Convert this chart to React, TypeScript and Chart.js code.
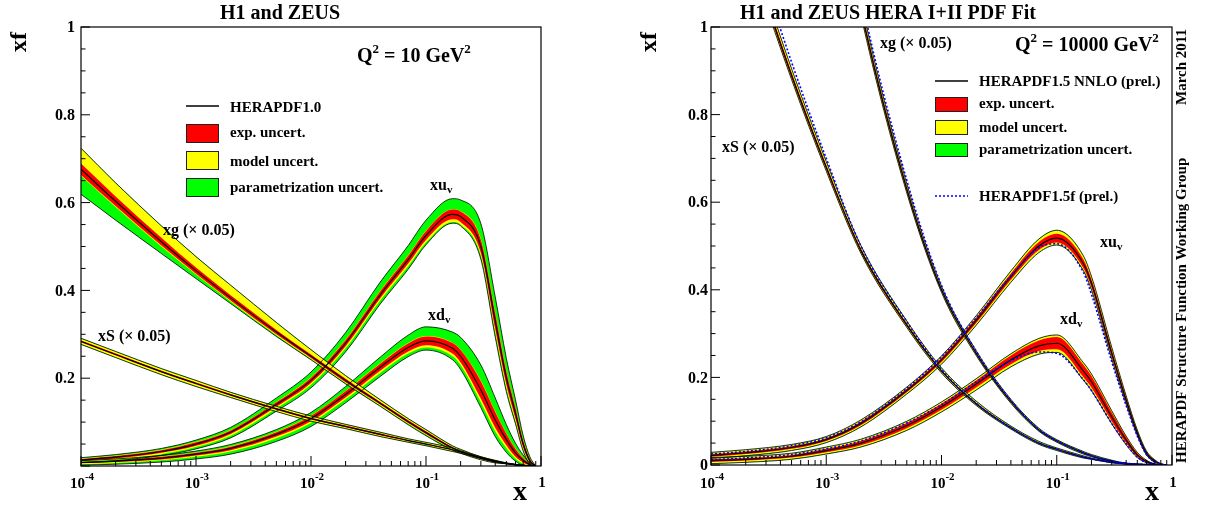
import React, { useEffect, useRef } from "react";
import { Chart, registerables } from "chart.js";
Chart.register(...registerables);

// ---------- shared x grid ----------
const X_GRID = [1e-4, 2e-4, 5e-4, 1e-3, 2e-3, 5e-3, 0.01, 0.02, 0.04, 0.07, 0.1, 0.17, 0.2, 0.3, 0.4, 0.5, 0.6, 0.7, 0.8, 0.9];

// ---------- tick labels ----------
const Y_LABELS_LEFT = [0.2, 0.4, 0.6, 0.8, 1];
const Y_LABELS_RIGHT = [0, 0.2, 0.4, 0.6, 0.8, 1];
const X_DECADES = [-4, -3, -2, -1];

// ---------- LEFT panel: Q^2 = 10 GeV^2 (HERAPDF1.0) ----------
const L_XUV = [0.014, 0.02, 0.033, 0.05, 0.077, 0.14, 0.195, 0.28, 0.39, 0.47, 0.525, 0.573, 0.568, 0.5, 0.33, 0.2, 0.12, 0.05, 0.012, 0];
const L_XUV_EXP = [0.002, 0.003, 0.003, 0.004, 0.004, 0.005, 0.006, 0.007, 0.008, 0.009, 0.01, 0.011, 0.012, 0.015, 0.018, 0.015, 0.012, 0.008, 0.004, 0];
const L_XUV_MOD_UP = [0.001, 0.001, 0.001, 0.001, 0.001, 0.001, 0.001, 0.001, 0.001, 0.001, 0.001, 0.001, 0.001, 0.002, 0.002, 0.002, 0.001, 0.001, 0.001, 0];
const L_XUV_MOD_DN = [0.002, 0.002, 0.003, 0.003, 0.004, 0.004, 0.004, 0.005, 0.005, 0.006, 0.006, 0.006, 0.006, 0.006, 0.008, 0.008, 0.006, 0.004, 0.002, 0];
const L_XUV_PAR_UP = [0.002, 0.002, 0.003, 0.004, 0.006, 0.009, 0.012, 0.016, 0.02, 0.022, 0.024, 0.024, 0.025, 0.035, 0.035, 0.028, 0.018, 0.01, 0.004, 0];
const L_XUV_PAR_DN = [0.002, 0.003, 0.003, 0.004, 0.005, 0.006, 0.007, 0.008, 0.008, 0.007, 0.005, 0.003, 0.003, 0.008, 0.01, 0.008, 0.006, 0.004, 0.002, 0];

const L_XDV = [0.008, 0.011, 0.018, 0.027, 0.04, 0.072, 0.108, 0.163, 0.225, 0.27, 0.285, 0.268, 0.25, 0.173, 0.105, 0.06, 0.03, 0.013, 0.003, 0];
const L_XDV_EXP = [0.002, 0.002, 0.003, 0.003, 0.004, 0.005, 0.006, 0.007, 0.008, 0.009, 0.01, 0.012, 0.014, 0.02, 0.018, 0.013, 0.009, 0.005, 0.002, 0];
const L_XDV_MOD_UP = [0.001, 0.001, 0.001, 0.001, 0.001, 0.001, 0.001, 0.001, 0.001, 0.001, 0.001, 0.001, 0.001, 0.002, 0.002, 0.001, 0.001, 0.001, 0, 0];
const L_XDV_MOD_DN = [0.002, 0.002, 0.002, 0.003, 0.003, 0.004, 0.004, 0.004, 0.005, 0.005, 0.005, 0.006, 0.006, 0.008, 0.008, 0.006, 0.004, 0.003, 0.001, 0];
const L_XDV_PAR_UP = [0.001, 0.002, 0.002, 0.003, 0.004, 0.005, 0.007, 0.01, 0.014, 0.018, 0.021, 0.024, 0.028, 0.035, 0.03, 0.02, 0.012, 0.006, 0.002, 0];
const L_XDV_PAR_DN = [0.002, 0.003, 0.004, 0.005, 0.006, 0.007, 0.008, 0.008, 0.008, 0.007, 0.006, 0.008, 0.01, 0.012, 0.012, 0.01, 0.006, 0.004, 0.002, 0];

const L_XG = [0.676, 0.603, 0.511, 0.445, 0.383, 0.305, 0.25, 0.195, 0.143, 0.101, 0.076, 0.041, 0.033, 0.018, 0.01, 0.006, 0.003, 0.0015, 0.0005, 0];
const L_XG_EXP = [0.013, 0.011, 0.009, 0.007, 0.006, 0.005, 0.004, 0.004, 0.003, 0.003, 0.003, 0.002, 0.002, 0.002, 0.001, 0.001, 0.001, 0, 0, 0];
const L_XG_MOD_UP = [0.034, 0.03, 0.026, 0.024, 0.022, 0.016, 0.01, 0.006, 0.004, 0.003, 0.003, 0.002, 0.002, 0.001, 0.001, 0, 0, 0, 0, 0];
const L_XG_MOD_DN = [0.002, 0.002, 0.002, 0.002, 0.002, 0.002, 0.002, 0.002, 0.002, 0.002, 0.002, 0.001, 0.001, 0.001, 0.001, 0, 0, 0, 0, 0];
const L_XG_PAR_UP = [0.001, 0.001, 0.001, 0.001, 0.001, 0.001, 0.001, 0.001, 0.001, 0.001, 0.001, 0.001, 0.001, 0, 0, 0, 0, 0, 0, 0];
const L_XG_PAR_DN = [0.042, 0.03, 0.016, 0.009, 0.005, 0.003, 0.002, 0.002, 0.002, 0.002, 0.002, 0.002, 0.001, 0.001, 0.001, 0, 0, 0, 0, 0];

const L_XS = [0.284, 0.254, 0.215, 0.188, 0.162, 0.13, 0.108, 0.09, 0.072, 0.058, 0.05, 0.037, 0.032, 0.019, 0.011, 0.006, 0.003, 0.0015, 0.0005, 0];
const L_XS_EXP = [0.002, 0.002, 0.002, 0.002, 0.002, 0.002, 0.002, 0.002, 0.002, 0.001, 0.001, 0.001, 0.001, 0.001, 0.001, 0, 0, 0, 0, 0];
const L_XS_MOD_UP = [0.004, 0.004, 0.004, 0.004, 0.003, 0.003, 0.003, 0.002, 0.002, 0.002, 0.002, 0.002, 0.001, 0.001, 0.001, 0.001, 0, 0, 0, 0];
const L_XS_MOD_DN = [0.004, 0.004, 0.004, 0.004, 0.003, 0.003, 0.003, 0.002, 0.002, 0.002, 0.002, 0.002, 0.001, 0.001, 0.001, 0.001, 0, 0, 0, 0];
const L_XS_PAR_UP = [0.001, 0.001, 0.001, 0.001, 0.001, 0.001, 0.001, 0.001, 0.001, 0.001, 0.001, 0.001, 0.001, 0, 0, 0, 0, 0, 0, 0];
const L_XS_PAR_DN = [0.001, 0.001, 0.001, 0.001, 0.001, 0.001, 0.001, 0.001, 0.001, 0.001, 0.001, 0.001, 0.001, 0, 0, 0, 0, 0, 0, 0];

// ---------- RIGHT panel: Q^2 = 10000 GeV^2 (HERAPDF1.5 NNLO) ----------
const R_XUV = [0.022, 0.028, 0.04, 0.058, 0.095, 0.17, 0.24, 0.33, 0.43, 0.5, 0.518, 0.46, 0.415, 0.255, 0.148, 0.073, 0.027, 0.01, 0.002, 0];
const R_XUV_EXP = [0.003, 0.003, 0.003, 0.003, 0.004, 0.004, 0.005, 0.006, 0.007, 0.009, 0.01, 0.01, 0.009, 0.008, 0.006, 0.004, 0.003, 0.002, 0.001, 0];
const R_XUV_MOD_UP = [0.003, 0.003, 0.003, 0.003, 0.003, 0.003, 0.003, 0.004, 0.005, 0.006, 0.007, 0.007, 0.006, 0.005, 0.004, 0.003, 0.002, 0.001, 0, 0];
const R_XUV_MOD_DN = [0.003, 0.003, 0.003, 0.003, 0.003, 0.003, 0.004, 0.004, 0.005, 0.005, 0.005, 0.005, 0.005, 0.004, 0.003, 0.002, 0.001, 0.001, 0, 0];
const R_XUV_F = [0.025, 0.031, 0.044, 0.062, 0.099, 0.175, 0.247, 0.336, 0.432, 0.496, 0.505, 0.44, 0.39, 0.236, 0.136, 0.066, 0.024, 0.008, 0.002, 0];

const R_XDV = [0.01, 0.013, 0.02, 0.033, 0.05, 0.09, 0.133, 0.185, 0.24, 0.272, 0.278, 0.215, 0.19, 0.11, 0.057, 0.023, 0.008, 0.002, 0, 0];
const R_XDV_EXP = [0.003, 0.003, 0.003, 0.004, 0.005, 0.006, 0.007, 0.008, 0.01, 0.012, 0.014, 0.014, 0.013, 0.01, 0.007, 0.004, 0.002, 0.001, 0, 0];
const R_XDV_MOD_UP = [0.003, 0.003, 0.003, 0.003, 0.003, 0.003, 0.003, 0.003, 0.003, 0.004, 0.004, 0.004, 0.004, 0.003, 0.002, 0.002, 0.001, 0, 0, 0];
const R_XDV_MOD_DN = [0.003, 0.003, 0.003, 0.003, 0.003, 0.004, 0.004, 0.005, 0.005, 0.006, 0.006, 0.006, 0.006, 0.005, 0.004, 0.002, 0.001, 0, 0, 0];
const R_XDV_F = [0.012, 0.016, 0.024, 0.037, 0.055, 0.096, 0.138, 0.19, 0.238, 0.258, 0.255, 0.195, 0.17, 0.095, 0.048, 0.018, 0.006, 0.002, 0, 0];

const R_XG = [3.3, 2.7, 1.95, 1.45, 1.04, 0.63, 0.4, 0.255, 0.145, 0.08, 0.055, 0.028, 0.021, 0.009, 0.004, 0.002, 0.001, 0, 0, 0];
const R_XG_EXP = [0.03, 0.025, 0.018, 0.012, 0.008, 0.005, 0.003, 0.002, 0.002, 0.001, 0.001, 0.001, 0.001, 0, 0, 0, 0, 0, 0, 0];
const R_XG_MOD_UP = [0.03, 0.025, 0.02, 0.015, 0.01, 0.006, 0.004, 0.003, 0.002, 0.002, 0.001, 0.001, 0.001, 0.001, 0, 0, 0, 0, 0, 0];
const R_XG_MOD_DN = [0.01, 0.008, 0.006, 0.005, 0.004, 0.003, 0.002, 0.002, 0.001, 0.001, 0.001, 0.001, 0, 0, 0, 0, 0, 0, 0, 0];
const R_XG_F = [3.4, 2.8, 2.0, 1.5, 1.07, 0.65, 0.41, 0.26, 0.147, 0.081, 0.055, 0.028, 0.021, 0.009, 0.004, 0.002, 0.001, 0, 0, 0];

const R_XS = [1.45, 1.2, 0.89, 0.68, 0.49, 0.32, 0.215, 0.14, 0.085, 0.05, 0.036, 0.018, 0.014, 0.006, 0.0025, 0.001, 0, 0, 0, 0];
const R_XS_EXP = [0.01, 0.008, 0.006, 0.005, 0.004, 0.003, 0.002, 0.002, 0.001, 0.001, 0.001, 0.001, 0, 0, 0, 0, 0, 0, 0, 0];
const R_XS_MOD_UP = [0.012, 0.01, 0.008, 0.007, 0.006, 0.005, 0.004, 0.003, 0.002, 0.002, 0.001, 0.001, 0.001, 0, 0, 0, 0, 0, 0, 0];
const R_XS_MOD_DN = [0.005, 0.004, 0.003, 0.003, 0.002, 0.002, 0.002, 0.001, 0.001, 0.001, 0.001, 0, 0, 0, 0, 0, 0, 0, 0, 0];
const R_XS_F = [1.5, 1.24, 0.92, 0.7, 0.5, 0.327, 0.218, 0.141, 0.085, 0.05, 0.036, 0.018, 0.014, 0.006, 0.0025, 0.001, 0, 0, 0, 0];

const R_PAR = [0.001, 0.001, 0.001, 0.001, 0.001, 0.001, 0.001, 0.001, 0.001, 0.001, 0.001, 0.001, 0.001, 0.001, 0, 0, 0, 0, 0, 0];

// ---------- styling ----------
const RED = "#ff0000";
const YELLOW = "#ffff00";
const GREEN = "#00ff00";
const BLUE = "#0000ff";
const NONE = "rgba(0,0,0,0)";
const SERIF = '"Liberation Serif", "Times New Roman", serif';

type Band = { c: number[]; exp: number[]; mu: number[]; md: number[]; pu: number[]; pd: number[] };

const LEFT_BANDS: Band[] = [
  { c: L_XS, exp: L_XS_EXP, mu: L_XS_MOD_UP, md: L_XS_MOD_DN, pu: L_XS_PAR_UP, pd: L_XS_PAR_DN },
  { c: L_XG, exp: L_XG_EXP, mu: L_XG_MOD_UP, md: L_XG_MOD_DN, pu: L_XG_PAR_UP, pd: L_XG_PAR_DN },
  { c: L_XUV, exp: L_XUV_EXP, mu: L_XUV_MOD_UP, md: L_XUV_MOD_DN, pu: L_XUV_PAR_UP, pd: L_XUV_PAR_DN },
  { c: L_XDV, exp: L_XDV_EXP, mu: L_XDV_MOD_UP, md: L_XDV_MOD_DN, pu: L_XDV_PAR_UP, pd: L_XDV_PAR_DN },
];
const RIGHT_BANDS: Band[] = [
  { c: R_XS, exp: R_XS_EXP, mu: R_XS_MOD_UP, md: R_XS_MOD_DN, pu: R_PAR, pd: R_PAR },
  { c: R_XG, exp: R_XG_EXP, mu: R_XG_MOD_UP, md: R_XG_MOD_DN, pu: R_PAR, pd: R_PAR },
  { c: R_XUV, exp: R_XUV_EXP, mu: R_XUV_MOD_UP, md: R_XUV_MOD_DN, pu: R_PAR, pd: R_PAR },
  { c: R_XDV, exp: R_XDV_EXP, mu: R_XDV_MOD_UP, md: R_XDV_MOD_DN, pu: R_PAR, pd: R_PAR },
];
const RIGHT_F = [R_XS_F, R_XG_F, R_XUV_F, R_XDV_F];

function pts(arr: number[]) {
  return X_GRID.map((x, i) => ({ x, y: arr[i] }));
}

const COMMON = {
  pointRadius: 0,
  pointHoverRadius: 0,
  cubicInterpolationMode: "monotone",
  capBezierPoints: false,
  clip: 0,
};

function bandDatasets(b: Band) {
  const rHi = b.c.map((v, i) => v + b.exp[i]);
  const rLo = b.c.map((v, i) => v - b.exp[i]);
  const yHi = rHi.map((v, i) => v + b.mu[i]);
  const yLo = rLo.map((v, i) => v - b.md[i]);
  const gHi = yHi.map((v, i) => v + b.pu[i]);
  const gLo = yLo.map((v, i) => v - b.pd[i]);
  return [
    { ...COMMON, data: pts(b.c), fill: false, borderColor: "#000", borderWidth: 1.2 },
    { ...COMMON, data: pts(rLo), fill: false, borderColor: NONE, borderWidth: 1 },
    { ...COMMON, data: pts(rHi), fill: "-1", backgroundColor: RED, borderColor: NONE, borderWidth: 1 },
    { ...COMMON, data: pts(yLo), fill: false, borderColor: NONE, borderWidth: 1 },
    { ...COMMON, data: pts(yHi), fill: "-1", backgroundColor: YELLOW, borderColor: NONE, borderWidth: 1 },
    { ...COMMON, data: pts(gLo), fill: false, borderColor: "#000", borderWidth: 0.8 },
    { ...COMMON, data: pts(gHi), fill: "-1", backgroundColor: GREEN, borderColor: "#000", borderWidth: 0.8 },
  ];
}

type Seg = { t: string; s: number; dy?: number };

function runWidth(ctx: CanvasRenderingContext2D, segs: Seg[]) {
  let w = 0;
  for (const g of segs) {
    ctx.font = `bold ${g.s}px ${SERIF}`;
    w += ctx.measureText(g.t).width;
  }
  return w;
}

function drawRun(ctx: CanvasRenderingContext2D, x: number, y: number, segs: Seg[], align = "left") {
  const w = runWidth(ctx, segs);
  let cx = align === "center" ? x - w / 2 : align === "right" ? x - w : x;
  ctx.textAlign = "left";
  ctx.textBaseline = "alphabetic";
  for (const g of segs) {
    ctx.font = `bold ${g.s}px ${SERIF}`;
    ctx.fillText(g.t, cx, y + (g.dy || 0));
    cx += ctx.measureText(g.t).width;
  }
}

function drawVertical(ctx: CanvasRenderingContext2D, x: number, y: number, text: string, size: number) {
  ctx.save();
  ctx.translate(x, y);
  ctx.rotate(-Math.PI / 2);
  ctx.font = `bold ${size}px ${SERIF}`;
  ctx.textAlign = "left";
  ctx.textBaseline = "alphabetic";
  ctx.fillText(text, 0, 0);
  ctx.restore();
}

type Deco = {
  title: string; titleX: number;
  xfX: number; xLabX: number;
  q2: string; q2X: number; q2Y: number;
  yLabels: number[]; yGap: number;
  legend: { lineY: number; x0: number; x1: number; tx: number; main: string; mainY: number; boxes: { color: string; y0: number; y1: number; text: string; ty: number }[]; fLine?: { y: number; text: string; ty: number } };
  labels: { segs: Seg[]; x: number; y: number }[];
  side?: boolean;
};

function makeDecor(d: Deco) {
  return {
    id: "decor",
    afterDraw(chart: any) {
      const ctx: CanvasRenderingContext2D = chart.ctx;
      const xs = chart.scales.x;
      const ys = chart.scales.y;
      const { left, right, top, bottom } = chart.chartArea;
      ctx.save();
      ctx.fillStyle = "#000";
      ctx.strokeStyle = "#000";
      ctx.lineWidth = 1.2;
      ctx.strokeRect(left, top, right - left, bottom - top);
      ctx.lineWidth = 1;
      for (let k = 0; k <= 20; k++) {
        const v = k * 0.05;
        const py = ys.getPixelForValue(v);
        const len = k % 4 === 0 ? 9 : 4.5;
        ctx.beginPath();
        ctx.moveTo(left, py);
        ctx.lineTo(left + len, py);
        ctx.stroke();
      }
      for (let dcd = -4; dcd <= 0; dcd++) {
        for (let m = 1; m <= 9; m++) {
          const v = m * Math.pow(10, dcd);
          if (v > 1.0000001) continue;
          const px = xs.getPixelForValue(v);
          const len = m === 1 ? 10 : 5;
          ctx.beginPath();
          ctx.moveTo(px, bottom);
          ctx.lineTo(px, bottom - len);
          ctx.stroke();
        }
      }
      ctx.font = `bold 16px ${SERIF}`;
      ctx.textAlign = "right";
      ctx.textBaseline = "middle";
      for (const v of d.yLabels) {
        ctx.fillText(String(v), left - d.yGap, ys.getPixelForValue(v) + 1);
      }
      for (const e of X_DECADES) {
        const px = xs.getPixelForValue(Math.pow(10, e));
        drawRun(ctx, px + 1, 488, [{ t: "10", s: 15 }, { t: "-" + String(-e), s: 11, dy: -8 }], "center");
      }
      drawRun(ctx, xs.getPixelForValue(1) + 1, 487, [{ t: "1", s: 15 }], "center");
      drawVertical(ctx, d.xfX, 52, "xf", 24);
      drawRun(ctx, d.xLabX, 500, [{ t: "x", s: 28 }]);
      drawRun(ctx, d.titleX, 19, [{ t: d.title, s: 20 }]);
      drawRun(ctx, d.q2X, d.q2Y, [
        { t: "Q", s: 20 }, { t: "2", s: 13, dy: -9 }, { t: " = " + d.q2 + " GeV", s: 20 }, { t: "2", s: 13, dy: -9 },
      ]);
      const L = d.legend;
      ctx.strokeStyle = "#000";
      ctx.lineWidth = 1.5;
      ctx.beginPath();
      ctx.moveTo(L.x0, L.lineY);
      ctx.lineTo(L.x1, L.lineY);
      ctx.stroke();
      drawRun(ctx, L.tx, L.mainY, [{ t: L.main, s: 15 }]);
      for (const b of L.boxes) {
        ctx.fillStyle = b.color;
        ctx.fillRect(L.x0, b.y0, L.x1 - L.x0, b.y1 - b.y0);
        ctx.strokeStyle = "#222";
        ctx.lineWidth = 1;
        ctx.strokeRect(L.x0 + 0.5, b.y0 + 0.5, L.x1 - L.x0 - 1, b.y1 - b.y0 - 1);
        ctx.fillStyle = "#000";
        drawRun(ctx, L.tx, b.ty, [{ t: b.text, s: 15 }]);
      }
      if (L.fLine) {
        ctx.strokeStyle = BLUE;
        ctx.lineWidth = 1.5;
        ctx.setLineDash([2, 2]);
        ctx.beginPath();
        ctx.moveTo(L.x0, L.fLine.y);
        ctx.lineTo(L.x1, L.fLine.y);
        ctx.stroke();
        ctx.setLineDash([]);
        ctx.fillStyle = "#000";
        drawRun(ctx, L.tx, L.fLine.ty, [{ t: L.fLine.text, s: 15 }]);
      }
      ctx.fillStyle = "#000";
      for (const lb of d.labels) drawRun(ctx, lb.x, lb.y, lb.segs);
      if (d.side) {
        drawVertical(ctx, 580, 105, "March 2011", 15);
        drawVertical(ctx, 580, 463, "HERAPDF Structure Function Working Group", 15);
      }
      ctx.restore();
    },
  };
}

const LEFT_DECO: Deco = {
  title: "H1 and ZEUS", titleX: 220,
  xfX: 26, xLabX: 513,
  q2: "10", q2X: 357, q2Y: 62,
  yLabels: Y_LABELS_LEFT, yGap: 6,
  legend: {
    lineY: 106, x0: 186, x1: 219, tx: 230, main: "HERAPDF1.0", mainY: 112,
    boxes: [
      { color: RED, y0: 124, y1: 143, text: "exp. uncert.", ty: 137 },
      { color: YELLOW, y0: 151, y1: 170, text: "model uncert.", ty: 166 },
      { color: GREEN, y0: 178, y1: 197, text: "parametrization uncert.", ty: 192 },
    ],
  },
  labels: [
    { segs: [{ t: "xg (× 0.05)", s: 16 }], x: 163, y: 235 },
    { segs: [{ t: "xS (× 0.05)", s: 16 }], x: 98, y: 341 },
    { segs: [{ t: "xu", s: 16 }, { t: "v", s: 11, dy: 3 }], x: 430, y: 190 },
    { segs: [{ t: "xd", s: 16 }, { t: "v", s: 11, dy: 3 }], x: 428, y: 320 },
  ],
};

const RIGHT_DECO: Deco = {
  title: "H1 and ZEUS HERA I+II PDF Fit", titleX: 134,
  xfX: 50, xLabX: 539,
  q2: "10000", q2X: 409, q2Y: 51,
  yLabels: Y_LABELS_RIGHT, yGap: 3,
  legend: {
    lineY: 81, x0: 329, x1: 362, tx: 373, main: "HERAPDF1.5 NNLO (prel.)", mainY: 86,
    boxes: [
      { color: RED, y0: 97, y1: 112, text: "exp. uncert.", ty: 108 },
      { color: YELLOW, y0: 120, y1: 135, text: "model uncert.", ty: 132 },
      { color: GREEN, y0: 143, y1: 157, text: "parametrization uncert.", ty: 154 },
    ],
    fLine: { y: 196, text: "HERAPDF1.5f (prel.)", ty: 201 },
  },
  labels: [
    { segs: [{ t: "xS (× 0.05)", s: 16 }], x: 116, y: 152 },
    { segs: [{ t: "xg (× 0.05)", s: 16 }], x: 274, y: 48 },
    { segs: [{ t: "xu", s: 16 }, { t: "v", s: 11, dy: 3 }], x: 494, y: 247 },
    { segs: [{ t: "xd", s: 16 }, { t: "v", s: 11, dy: 3 }], x: 454, y: 324 },
  ],
  side: true,
};

function buildDatasets(bands: Band[], fLines?: number[][]) {
  const out: any[] = [];
  if (fLines) {
    for (const f of fLines) {
      out.push({ ...COMMON, data: pts(f), fill: false, borderColor: BLUE, borderWidth: 1.6, borderDash: [2, 2] });
    }
  }
  for (const b of bands) out.push(...bandDatasets(b));
  return out;
}

function PdfPanel(props: { left: number; bands: Band[]; fLines?: number[][]; deco: Deco; padding: any }) {
  const ref = useRef<HTMLCanvasElement>(null);
  useEffect(() => {
    const chart = new Chart(ref.current as HTMLCanvasElement, {
      type: "line",
      data: { datasets: buildDatasets(props.bands, props.fLines) },
      options: {
        animation: false,
        responsive: false,
        devicePixelRatio: 1,
        events: [],
        layout: { padding: props.padding },
        scales: {
          x: { type: "logarithmic", min: 1e-4, max: 1, display: false },
          y: { type: "linear", min: 0, max: 1, display: false },
        },
        plugins: {
          legend: { display: false },
          tooltip: { enabled: false },
          filler: { drawTime: "beforeDatasetsDraw", propagate: false },
        },
      } as any,
      plugins: [makeDecor(props.deco)],
    } as any);
    return () => chart.destroy();
  }, []);
  return (
    <canvas
      ref={ref}
      width={606}
      height={508}
      style={{ position: "absolute", left: props.left, top: 0, width: 606, height: 508 }}
    />
  );
}

export default function App() {
  return (
    <div style={{ position: "fixed", left: 0, top: 0, width: 1212, height: 508, background: "#fff", overflow: "hidden" }}>
      <PdfPanel left={0} bands={LEFT_BANDS} deco={LEFT_DECO} padding={{ left: 81, right: 65, top: 27, bottom: 42 }} />
      <PdfPanel left={606} bands={RIGHT_BANDS} fLines={RIGHT_F} deco={RIGHT_DECO} padding={{ left: 105, right: 40, top: 27, bottom: 43 }} />
    </div>
  );
}
